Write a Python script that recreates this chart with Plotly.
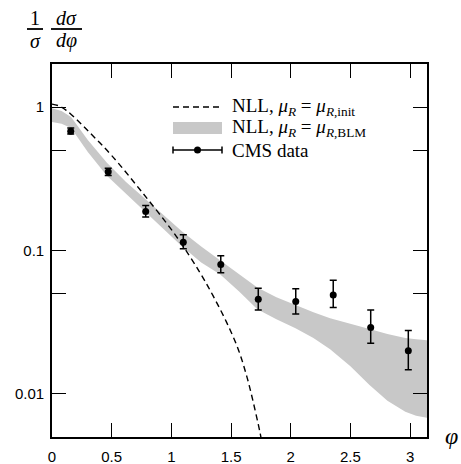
import numpy as np
import plotly.graph_objects as go

# ---- data ----
phi_data = [0.157, 0.471, 0.785, 1.100, 1.414, 1.728, 2.042, 2.356, 2.670, 2.985]
cms = [0.68, 0.355, 0.187, 0.114, 0.080, 0.0457, 0.044, 0.049, 0.029, 0.020]
cms_err_up = [0.035, 0.020, 0.019, 0.015, 0.012, 0.0088, 0.010, 0.013, 0.0095, 0.0077]
cms_err_dn = [0.030, 0.022, 0.016, 0.011, 0.010, 0.0072, 0.008, 0.009, 0.0065, 0.0053]

phi_init = [0, 0.06, 0.12, 0.24, 0.36, 0.5, 0.75, 1.04, 1.24, 1.35, 1.463, 1.56, 1.63, 1.686, 1.742, 1.76]
nll_init = [1.05, 1.02, 0.95, 0.77, 0.61, 0.46, 0.258, 0.126, 0.070, 0.0482, 0.0315, 0.0205, 0.0134, 0.00875, 0.0054, 0.0045]

phi_blm = [0, 0.08, 0.16, 0.3, 0.46, 0.62, 0.78, 0.94, 1.09, 1.25, 1.41, 1.57, 1.72, 1.88, 2.04, 2.19, 2.33,
           2.5, 2.66, 2.81, 2.96, 3.05, 3.1416]
blm_upper = [0.984, 0.94, 0.852, 0.590, 0.409, 0.301, 0.230, 0.175, 0.1355, 0.1067, 0.0853, 0.0681, 0.0553, 0.0472,
             0.0415, 0.0371, 0.0337, 0.0306, 0.0283, 0.0261, 0.0245, 0.0240, 0.0237]
blm_lower = [0.787, 0.765, 0.715, 0.487, 0.332, 0.249, 0.1866, 0.140, 0.1067, 0.0826, 0.068, 0.0515, 0.0389, 0.0332,
             0.0287, 0.0245, 0.0205, 0.0156, 0.01155, 0.00894, 0.0075, 0.00703, 0.00681]

x_ticks = [0, 0.5, 1, 1.5, 2, 2.5, 3]
x_ticklabels = ["0", "0.5", "1", "1.5", "2", "2.5", "3"]
y_ticks = [0.01, 0.05, 0.1, 0.5, 1]
y_ticklabels = ["0.01", " ", "0.1", " ", "1"]

legend_labels = [
    "NLL, <i>μ</i><sub><i>R</i></sub> = <i>μ</i><sub><i>R</i>,init</sub>",
    "NLL, <i>μ</i><sub><i>R</i></sub> = <i>μ</i><sub><i>R</i>,BLM</sub>",
    "CMS data",
]

W, H = 461, 464
L, R, T, B = 52, 427, 64, 437
BAND = "#c8c8c8"
SERIF = "Liberation Serif"
SANS = "Liberation Sans"


def px(x):
    return (x - L) / (R - L)


def py(y):
    return (B - y) / (B - T)


fig = go.Figure()
fig.add_trace(go.Scatter(x=phi_blm, y=blm_upper, mode="lines", line=dict(width=0, color=BAND),
                         showlegend=False, hoverinfo="skip"))
fig.add_trace(go.Scatter(x=phi_blm, y=blm_lower, mode="lines", line=dict(width=0, color=BAND),
                         fill="tonexty", fillcolor=BAND, showlegend=False, hoverinfo="skip"))
fig.add_trace(go.Scatter(x=phi_init, y=nll_init, mode="lines",
                         line=dict(color="black", width=1.4, dash="6px,4px", shape="spline"),
                         showlegend=False))
fig.add_trace(go.Scatter(x=phi_data, y=cms, mode="markers",
                         marker=dict(color="black", size=7),
                         error_y=dict(type="data", array=cms_err_up, arrayminus=cms_err_dn,
                                      color="black", thickness=1.5, width=3.5),
                         showlegend=False))

axis_common = dict(showline=True, linecolor="black", linewidth=1.6, mirror="allticks",
                   ticks="inside", ticklen=14, tickwidth=1.4, tickcolor="black",
                   showgrid=False, zeroline=False, automargin=False,
                   tickfont=dict(family=SANS, size=15, color="black"))

fig.update_layout(
    width=W, height=H, autosize=False,
    margin=dict(l=L, r=W - R, t=T, b=H - B, pad=0),
    paper_bgcolor="white", plot_bgcolor="white",
    showlegend=False,
    xaxis=dict(range=[0, np.pi], tickvals=x_ticks, ticktext=x_ticklabels, ticklabelstandoff=5, **axis_common),
    yaxis=dict(type="log", range=[np.log10(0.005), np.log10(2)], tickvals=y_ticks,
               ticktext=y_ticklabels, ticklabelstandoff=3, **axis_common),
)

shapes = []
annos = []

# legend (manual)
lx0, lx1, ltext = 173, 222, 231
ly = [107, 128, 150]
shapes.append(dict(type="line", xref="paper", yref="paper", x0=px(lx0), x1=px(lx1), y0=py(ly[0]), y1=py(ly[0]),
                   line=dict(color="black", width=1.4, dash="6px,4px")))
shapes.append(dict(type="rect", xref="paper", yref="paper", x0=px(lx0), x1=px(lx1), y0=py(ly[1] + 6), y1=py(ly[1] - 6),
                   line=dict(width=0), fillcolor=BAND))
shapes.append(dict(type="line", xref="paper", yref="paper", x0=px(lx0), x1=px(lx1), y0=py(ly[2]), y1=py(ly[2]),
                   line=dict(color="black", width=1.5)))
for xx in (lx0, lx1):
    shapes.append(dict(type="line", xref="paper", yref="paper", x0=px(xx), x1=px(xx), y0=py(ly[2] - 3.5), y1=py(ly[2] + 3.5),
                       line=dict(color="black", width=1.5)))
cx = (lx0 + lx1) / 2
shapes.append(dict(type="circle", xref="paper", yref="paper", x0=px(cx - 3.5), x1=px(cx + 3.5), y0=py(ly[2] + 3.5),
                   y1=py(ly[2] - 3.5), line=dict(width=0), fillcolor="black"))
for lab, yy in zip(legend_labels, ly):
    annos.append(dict(xref="paper", yref="paper", x=px(ltext), y=py(yy), text=lab, showarrow=False,
                      xanchor="left", yanchor="middle", borderpad=0,
                      font=dict(family=SERIF, size=19, color="black")))

# y-axis title (fraction)
tfont = dict(family=SERIF, size=20, color="black")
annos += [
    dict(xref="paper", yref="paper", x=px(35), y=py(18), text="1", showarrow=False, xanchor="center", yanchor="middle", font=tfont),
    dict(xref="paper", yref="paper", x=px(35), y=py(41), text="<i>σ</i>", showarrow=False, xanchor="center", yanchor="middle", font=tfont),
    dict(xref="paper", yref="paper", x=px(66), y=py(18), text="<i>dσ</i>", showarrow=False, xanchor="center", yanchor="middle", font=tfont),
    dict(xref="paper", yref="paper", x=px(66), y=py(41), text="<i>dφ</i>", showarrow=False, xanchor="center", yanchor="middle", font=tfont),
    dict(xref="paper", yref="paper", x=px(451), y=py(436), text="<i>φ</i>", showarrow=False, xanchor="center", yanchor="middle",
         font=dict(family=SERIF, size=24, color="black")),
]
shapes.append(dict(type="line", xref="paper", yref="paper", x0=px(27), x1=px(43), y0=py(29), y1=py(29), line=dict(color="black", width=1.8)))
shapes.append(dict(type="line", xref="paper", yref="paper", x0=px(51), x1=px(82), y0=py(29), y1=py(29), line=dict(color="black", width=1.8)))

fig.update_layout(shapes=shapes, annotations=annos)
fig.write_html("out.html", config={"displayModeBar": False},
               post_script="document.body.style.margin='0px';")
